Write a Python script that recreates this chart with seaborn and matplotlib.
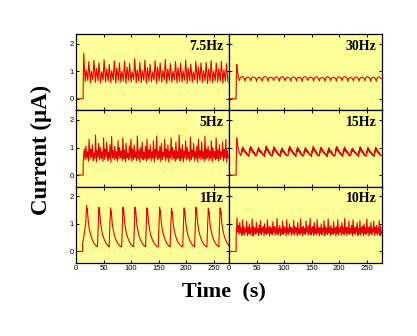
import numpy as np
import pandas as pd
import matplotlib
matplotlib.use("Agg")
import matplotlib.pyplot as plt
import seaborn as sns

# ---------------- labels ----------------
panel_labels = [["7.5Hz", "30Hz"], ["5Hz", "15Hz"], ["1Hz", "10Hz"]]
x_ticks = [0, 50, 100, 150, 200, 250]
y_ticks = [0, 1, 2]
x_label = "Time  (s)"
y_label = "Current (\u03bcA)"

onset = 13.0       # stimulus start (s)
t_end = 277.0

# ---------------- 7.5 Hz: spike peaks / troughs ----------------
p75 = [1.65, 1.05, 1.35, 1.00, 1.40, 1.10, 1.30, 0.98, 1.42, 1.08, 1.25, 1.02, 1.38, 1.12,
       1.30, 1.00, 1.36, 1.15, 1.28, 0.98, 1.45, 1.05, 1.32, 1.02, 1.40, 1.12, 1.25, 0.98,
       1.38, 1.15, 1.30, 1.02, 1.42, 1.08, 1.28, 1.00, 1.35, 1.12, 1.30, 1.02, 1.40, 1.10,
       1.26, 0.98, 1.36, 1.15, 1.30, 1.02, 1.32, 1.08, 1.38, 1.00, 1.30, 1.10, 1.36, 1.05,
       1.28]
tr75 = [0.62, 0.66, 0.58, 0.68, 0.60, 0.65, 0.57, 0.68, 0.61, 0.64, 0.59, 0.68, 0.57, 0.66,
        0.60, 0.65, 0.56, 0.67, 0.61, 0.68, 0.58, 0.65, 0.59, 0.67, 0.57, 0.64, 0.61, 0.68,
        0.57, 0.65, 0.60, 0.67, 0.56, 0.66, 0.60, 0.68, 0.58, 0.64, 0.61, 0.67, 0.57, 0.65,
        0.60, 0.68, 0.57, 0.66, 0.60, 0.65, 0.55, 0.64, 0.58, 0.66, 0.60, 0.65, 0.57, 0.64,
        0.60]

# ---------------- 5 Hz ----------------
p5 = [0.95, 1.05, 0.85, 1.30, 0.95, 1.10, 0.80, 1.45, 0.90, 1.15, 1.00, 0.85, 1.35, 0.95,
      1.20, 0.82, 1.10, 1.40, 0.90, 1.05, 0.85, 1.25, 1.00, 0.88, 1.35, 0.92, 1.15, 0.80,
      1.05, 1.30, 0.95, 1.10, 0.85, 1.42, 0.90, 1.00, 1.20, 0.83, 1.05, 1.30, 0.92, 1.10,
      0.86, 1.25, 0.95, 1.40, 0.88, 1.05, 1.15, 0.82, 1.30, 0.95, 1.10, 0.87, 1.35, 1.00,
      0.90, 1.20, 0.85, 1.45, 0.95, 1.10, 0.88, 1.25, 1.00, 0.84, 1.38, 0.92, 1.15, 0.86,
      1.05, 1.30, 0.90, 1.20, 0.85, 1.40, 0.95, 1.05, 0.88, 1.25, 1.00, 0.86, 1.35, 0.92,
      1.10, 0.85, 1.20, 0.95, 1.30, 0.90]
tr5 = [0.55, 0.62, 0.50, 0.58, 0.64, 0.52, 0.60, 0.48, 0.63, 0.55, 0.60, 0.50, 0.57, 0.64,
       0.52, 0.60, 0.47, 0.62, 0.55, 0.60, 0.50, 0.58, 0.63, 0.52, 0.60, 0.48, 0.62, 0.55,
       0.60, 0.50, 0.57, 0.64, 0.52, 0.60, 0.47, 0.62, 0.55, 0.60, 0.50, 0.58, 0.63, 0.52,
       0.60, 0.48, 0.62, 0.55, 0.60, 0.50, 0.57, 0.64, 0.52, 0.60, 0.47, 0.62, 0.55, 0.60,
       0.50, 0.58, 0.63, 0.52, 0.60, 0.48, 0.62, 0.55, 0.60, 0.50, 0.57, 0.64, 0.52, 0.60,
       0.47, 0.62, 0.55, 0.60, 0.50, 0.58, 0.63, 0.52, 0.60, 0.48, 0.62, 0.55, 0.60, 0.50,
       0.57, 0.64, 0.52, 0.60, 0.47, 0.62]

# ---------------- 10 Hz ----------------
p10 = [1.22, 0.95, 1.05, 0.85, 1.15, 0.90, 0.82, 1.10, 0.88, 1.00, 0.84, 1.18, 0.90, 0.86,
       1.05, 0.82, 0.95, 1.12, 0.85, 0.90, 1.00, 0.83, 1.15, 0.88, 0.92, 0.84, 1.08, 0.90,
       0.86, 1.20, 0.85, 0.95, 0.82, 1.10, 0.90, 0.86, 1.15, 0.84, 1.00, 0.88, 0.83, 1.12,
       0.90, 0.86, 1.05, 0.82, 1.18, 0.88, 0.92, 0.84, 1.10, 0.86, 0.95, 1.20, 0.85, 0.90,
       1.05, 0.83, 1.15, 0.88, 0.86, 1.00, 0.84, 1.12, 0.90, 0.85, 1.18, 0.88, 0.95, 0.83,
       1.08, 0.86, 0.90, 1.15, 0.84, 0.92, 1.05, 0.85, 1.20, 0.88, 0.86, 1.10, 0.84, 0.95,
       1.15, 0.86, 0.90, 1.05, 0.83, 1.12, 0.88, 0.92, 1.00, 0.85, 1.18, 0.86, 0.90, 1.05,
       0.84, 1.10, 0.88, 0.95, 0.85, 1.12, 0.90]
tr10 = [0.70, 0.62, 0.68, 0.58, 0.66, 0.60, 0.70, 0.57, 0.65, 0.61, 0.68, 0.56, 0.64, 0.62,
        0.69, 0.58, 0.66, 0.60, 0.70, 0.57, 0.64, 0.62, 0.68, 0.56, 0.65, 0.61, 0.70, 0.58,
        0.66, 0.60, 0.69, 0.57, 0.64, 0.62, 0.68, 0.56, 0.65, 0.61, 0.70, 0.58, 0.66, 0.60,
        0.69, 0.57, 0.64, 0.62, 0.68, 0.56, 0.65, 0.61, 0.70, 0.58, 0.66, 0.60, 0.69, 0.57,
        0.64, 0.62, 0.68, 0.56, 0.65, 0.61, 0.70, 0.58, 0.66, 0.60, 0.69, 0.57, 0.64, 0.62,
        0.68, 0.56, 0.65, 0.61, 0.70, 0.58, 0.66, 0.60, 0.69, 0.57, 0.64, 0.62, 0.68, 0.56,
        0.65, 0.61, 0.70, 0.58, 0.66, 0.60, 0.69, 0.57, 0.64, 0.62, 0.68, 0.56, 0.65, 0.61,
        0.70, 0.58, 0.66, 0.60, 0.69, 0.57, 0.64]

# ---------------- 30 Hz: slow humps ----------------
h30_peak = [0.80, 0.78, 0.79, 0.77, 0.80, 0.78, 0.79, 0.80, 0.77, 0.79, 0.78, 0.80, 0.78,
            0.79, 0.77, 0.80, 0.78, 0.79, 0.80, 0.77, 0.79, 0.78, 0.80, 0.78, 0.79]
h30_trough = [0.66, 0.64, 0.65, 0.63, 0.65, 0.64, 0.66, 0.63, 0.65, 0.64, 0.65, 0.63, 0.66,
              0.64, 0.65, 0.63, 0.65, 0.64, 0.66, 0.63, 0.65, 0.64, 0.65, 0.63, 0.64]
# hump shape (fraction of period, fraction of amplitude)
hump30_frac = [0.0, 0.12, 0.3, 0.5, 0.7, 0.88]
hump30_rel = [0.0, 0.65, 0.95, 1.0, 0.9, 0.55]

# ---------------- 15 Hz: sawtooth bursts ----------------
h15_peak = [1.02, 1.05, 1.00, 1.06, 1.03, 0.98, 1.05, 1.02, 1.00, 1.04, 1.01, 0.99, 1.04,
            1.02, 0.98, 1.03, 1.00, 1.01]
h15_trough = [0.70, 0.68, 0.70, 0.67, 0.69, 0.68, 0.70, 0.67, 0.69, 0.68, 0.70, 0.67, 0.69,
              0.68, 0.70, 0.67, 0.69, 0.68]
hump15_frac = [0.0, 0.05, 0.09, 0.13, 0.17, 0.21, 0.26, 0.31, 0.36, 0.42, 0.48, 0.54, 0.60,
               0.66, 0.72, 0.78, 0.85, 0.92]
hump15_rel = [0.0, 0.55, 0.35, 0.80, 0.55, 1.0, 0.70, 0.85, 0.55, 0.70, 0.40, 0.55, 0.28,
              0.40, 0.15, 0.25, 0.05, 0.12]

# ---------------- 1 Hz: large transients ----------------
t1_peaks = [19.3, 41.6, 62.8, 85.5, 107.3, 129.0, 152.0, 173.6, 196.5, 218.0, 240.5, 262.0]
v1_peaks = [1.67, 1.60, 1.58, 1.60, 1.60, 1.58, 1.60, 1.57, 1.58, 1.60, 1.57, 1.58]
decay1_dt = [0.0, 0.6, 1.2, 3.0, 5.0, 7.0, 10.0, 13.0, 16.0, 19.0]
decay1_v = [1.62, 1.40, 1.50, 1.05, 0.78, 0.60, 0.42, 0.30, 0.22, 0.17]


def spikes(peaks, troughs, start, first=None):
    n = min(len(peaks), len(troughs))
    period = (t_end + 1 - start) / n
    t = [0.0, onset, onset]
    v = [0.0, 0.0, troughs[0] if first is None else first]
    for i in range(n):
        t0 = start + i * period
        t += [t0, t0 + 0.6 * period]
        v += [peaks[i], troughs[i]]
    return np.array(t), np.array(v)


def humps(peaks, troughs, start, frac, rel, head_t, head_v):
    n = min(len(peaks), len(troughs))
    period = (t_end + 1 - start) / n
    t = [0.0, onset, onset] + head_t
    v = [0.0, 0.0, 0.3] + head_v
    for i in range(n):
        t0 = start + i * period
        for f, r in zip(frac, rel):
            t.append(t0 + f * period)
            v.append(troughs[i] + r * (peaks[i] - troughs[i]))
    return np.array(t), np.array(v)


def transients():
    t = [0.0, 12.0, 12.0, 17.5]
    v = [0.0, 0.0, 0.25, 1.0]
    for k, (tp, vp) in enumerate(zip(t1_peaks, v1_peaks)):
        if k > 0:
            t += [tp - 2.6, tp - 1.2]
            v += [decay1_v[-1], 1.0]
        for dt, dv in zip(decay1_dt, decay1_v):
            if tp + dt <= t_end + 1:
                t.append(tp + dt)
                v.append(dv * vp / 1.62)
    return np.array(t), np.array(v)


traces = {
    "7.5Hz": spikes(p75, tr75, 14.0, first=0.4),
    "5Hz": spikes(p5, tr5, 15.0, first=0.45),
    "10Hz": spikes(p10, tr10, 14.5, first=0.5),
    "30Hz": humps(h30_peak, h30_trough, 19.0, hump30_frac, hump30_rel,
                  [14.0, 15.5, 17.0], [1.25, 0.95, 0.82]),
    "15Hz": humps(h15_peak, h15_trough, 22.0, hump15_frac, hump15_rel,
                  [14.0, 15.0, 17.0, 19.0], [1.35, 1.15, 0.95, 0.80]),
    "1Hz": transients(),
}

# ---------------- drawing ----------------
sns.set_style("ticks")
plt.rcParams["font.family"] = ["Liberation Sans", "DejaVu Sans"]
plt.rcParams["text.color"] = "black"
plt.rcParams["xtick.color"] = "black"
plt.rcParams["ytick.color"] = "black"
W, H = 417, 336
fig, axes = plt.subplots(3, 2, figsize=(W / 100, H / 100), dpi=100)
fig.subplots_adjust(left=76 / W, right=382 / W, top=1 - 34 / H, bottom=1 - 263 / H,
                    wspace=0, hspace=0)

line_color = "#E80000"
bg = "#FFFF99"
serif = ["Liberation Serif", "DejaVu Serif"]

for r in range(3):
    for c in range(2):
        ax = axes[r, c]
        lab = panel_labels[r][c]
        t, v = traces[lab]
        df = pd.DataFrame({"t": t, "v": v})
        sns.lineplot(data=df, x="t", y="v", ax=ax, color=line_color, lw=0.8,
                     estimator=None, sort=False)
        ax.set_facecolor(bg)
        ax.set_xlim(0, t_end + 1)
        ax.set_ylim(-0.42, 2.35)
        ax.set_xticks(x_ticks)
        ax.set_yticks(y_ticks)
        ax.tick_params(direction="in", length=2.5, width=0.7, labelsize=5.5, pad=1.5,
                       top=True, right=True, colors="black", labelcolor="black")
        if c == 1:
            ax.set_yticklabels([])
        if r < 2:
            ax.set_xticklabels([])
        ax.set_xlabel("")
        ax.set_ylabel("")
        for s in ax.spines.values():
            s.set_linewidth(0.9)
            s.set_color("black")
        ax.text(0.965, 0.84, lab, transform=ax.transAxes, ha="right", va="center",
                fontsize=10, fontweight="bold", family=serif, color="black")

fig.text(41 / W, 1 - 150 / H, y_label, rotation=90, ha="center", va="center",
         fontsize=16.5, fontweight="bold", family=serif, color="black")
fig.text(224 / W, 1 - 291 / H, x_label, ha="center", va="center",
         fontsize=16, fontweight="bold", family=serif, color="black")

fig.savefig("out.png", dpi=100, facecolor="white")
